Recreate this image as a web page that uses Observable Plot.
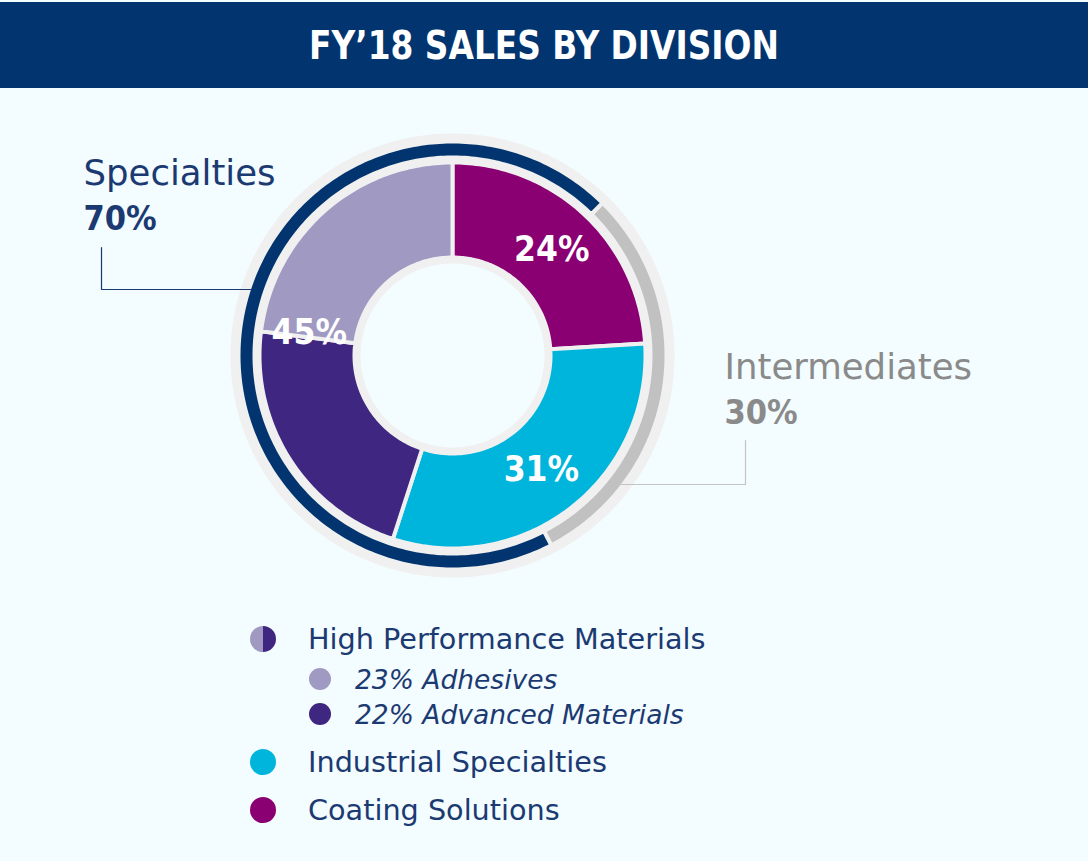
<!DOCTYPE html>
<html>
<head>
<meta charset="utf-8">
<script src="https://cdn.jsdelivr.net/npm/d3@7"></script>
<script src="https://cdn.jsdelivr.net/npm/@observablehq/plot@0.6"></script>
<style>
  html, body { margin: 0; padding: 0; }
  body { width: 1088px; height: 861px; background: #f3fcfe; position: relative; overflow: hidden; font-family: "DejaVu Sans", sans-serif; }
  #title { position: absolute; left: 0; top: 2px; width: 1088px; height: 86px; background: #02356f; color: #fff;
    font-family: "DejaVu Sans Condensed", "DejaVu Sans", sans-serif; font-stretch: condensed; font-weight: bold; font-size: 36.5px;
    display: flex; align-items: center; justify-content: center; }
  #title span { display: inline-block; transform: scaleY(1.08); }
  #chart { position: absolute; left: 0; top: 88px; }
  #legend { position: absolute; left: 250px; top: 622px; color: #1c3a72; }
  .row { display: flex; align-items: center; height: 34px; white-space: nowrap; }
  .sw { width: 26px; height: 26px; border-radius: 50%; margin-right: 32px; flex: none; }
  .main { font-size: 28.7px; }
  .sub { padding-left: 59px; }
  .sub .sw { width: 22px; height: 22px; margin-right: 24px; }
  .sub span { font-size: 26.5px; font-style: italic; }
</style>
</head>
<body>
<div id="title"><span>FY’18 SALES BY DIVISION</span></div>
<div id="chart"></div>
<div id="legend"></div>
<script>
// ---- data ----
const divisions = ["Coating Solutions", "Industrial Specialties", "Advanced Materials", "Adhesives"];
const divisionShares = [24, 31, 22, 23];
const labelGroups = ["Coating Solutions", "Industrial Specialties", "High Performance Materials"];
const labelShares = [24, 31, 45];
const ringGroups = ["Intermediates", "Specialties"];
const ringShares = [30, 70];
const legendItems = ["High Performance Materials", "23% Adhesives", "22% Advanced Materials", "Industrial Specialties", "Coating Solutions"];

// ---- styles ----
const divisionColors = ["#8a0073", "#00b5dc", "#3f2680", "#a099c2"];
const ringColors = ["#c1c1c1", "#02356f"];
const ringTextColors = ["#8a8a8a", "#1c3a72"];
const trackColor = "#f0f0f0";
const ringStart = 44.5 / 360; // turn fraction where the Intermediates arc begins
const boldFont = "DejaVu Sans Condensed, DejaVu Sans, sans-serif";

// ---- geometry helpers (turn fractions, clockwise from north) ----
function sector(a0, a1, r0, r1) {
  const n = Math.max(4, Math.ceil((a1 - a0) * 360));
  const pts = [];
  for (let i = 0; i <= n; i++) {
    const t = (a0 + (a1 - a0) * i / n) * 2 * Math.PI;
    pts.push({x: r1 * Math.sin(t), y: -r1 * Math.cos(t)});
  }
  for (let i = n; i >= 0; i--) {
    const t = (a0 + (a1 - a0) * i / n) * 2 * Math.PI;
    pts.push({x: r0 * Math.sin(t), y: -r0 * Math.cos(t)});
  }
  return pts;
}
const polar = (a, r) => ({x: r * Math.sin(a * 2 * Math.PI), y: -r * Math.cos(a * 2 * Math.PI)});

const total = d3.sum(divisionShares);
const cum = d3.cumsum(divisionShares);
const segs = divisions.map((d, i) => ({name: d, a0: (cum[i] - divisionShares[i]) / total, a1: cum[i] / total, color: divisionColors[i]}));

const lcum = d3.cumsum(labelShares);
const labels = labelGroups.map((g, i) => {
  const mid = (lcum[i] - labelShares[i] / 2) / d3.sum(labelShares);
  return {...polar(mid, 145), text: labelShares[i] + "%"};
});

const rcum = d3.cumsum(ringShares);
const rtot = d3.sum(ringShares);
const rings = ringGroups.map((g, i) => ({name: g, a0: ringStart + (rcum[i] - ringShares[i]) / rtot, a1: ringStart + rcum[i] / rtot, color: ringColors[i]}));

// annotation layout (label position + leader elbow, relative to donut centre)
const annots = [
  {group: "Specialties", tx: -369, ty: -171, elbowX: -351, topY: -108, lineY: -66, lineColor: "#1c3a72", color: ringTextColors[1]},
  {group: "Intermediates", tx: 272, ty: 23, elbowX: 293, topY: 85, lineY: 129, lineColor: "#c4c4c4", color: ringTextColors[0]}
];
const Rring = 212;

const marks = [
  Plot.line(sector(0, 1, 92, 222), {x: "x", y: "y", fill: trackColor, stroke: "none", curve: "linear-closed"}),
  ...segs.map(s => Plot.line(sector(s.a0, s.a1, 98, 193), {x: "x", y: "y", fill: s.color, stroke: trackColor, strokeWidth: 4, curve: "linear-closed"})),
  ...rings.map(s => Plot.line(sector(s.a0, s.a1, 198, 214), {x: "x", y: "y", fill: s.color, stroke: trackColor, strokeWidth: 4, curve: "linear-closed"})),
  Plot.text(labels, {x: "x", y: "y", text: "text", fill: "white", fontSize: 35, fontWeight: "bold", fontFamily: boldFont}),
  ...annots.map(a => {
    const xr = Math.sign(a.elbowX) * Math.sqrt(Rring * Rring - a.lineY * a.lineY);
    return Plot.line([{x: a.elbowX, y: a.topY}, {x: a.elbowX, y: a.lineY}, {x: xr, y: a.lineY}], {x: "x", y: "y", stroke: a.lineColor, strokeWidth: 1.2});
  }),
  ...annots.map(a => {
    return Plot.text([{x: a.tx, y: a.ty, t: a.group}], {x: "x", y: "y", text: "t", fill: a.color, fontSize: 35.5, textAnchor: "start", lineAnchor: "bottom"});
  }),
  ...annots.map(a => {
    const i = ringGroups.indexOf(a.group);
    return Plot.text([{x: a.tx, y: a.ty + 45, t: ringShares[i] + "%"}], {x: "x", y: "y", text: "t", fill: a.color, fontSize: 34, fontWeight: "bold", fontFamily: boldFont, textAnchor: "start", lineAnchor: "bottom"});
  })
];

const W = 1088, H = 530, cx = 452, cy = 267;
const chart = Plot.plot({
  width: W, height: H,
  margin: 0,
  x: {domain: [-cx, W - cx], range: [0, W], axis: null},
  y: {domain: [-cy, H - cy], range: [0, H], axis: null},
  style: {background: "transparent", fontFamily: "DejaVu Sans, sans-serif", overflow: "visible"},
  marks
});
document.getElementById("chart").appendChild(chart);

// ---- legend ----
const legendSwatches = [
  `linear-gradient(90deg, ${divisionColors[3]} 50%, ${divisionColors[2]} 50%)`,
  divisionColors[3], divisionColors[2], divisionColors[1], divisionColors[0]
];
const legendSub = [false, true, true, false, false];
const legendGap = [0, 6, 1, 14, 14];
const leg = d3.select("#legend");
legendItems.forEach((t, i) => {
  const row = leg.append("div").attr("class", "row" + (legendSub[i] ? " sub" : "")).style("margin-top", legendGap[i] + "px");
  row.append("div").attr("class", "sw").style("background", legendSwatches[i]);
  row.append("span").attr("class", legendSub[i] ? "" : "main").text(t);
});
</script>
</body>
</html>
